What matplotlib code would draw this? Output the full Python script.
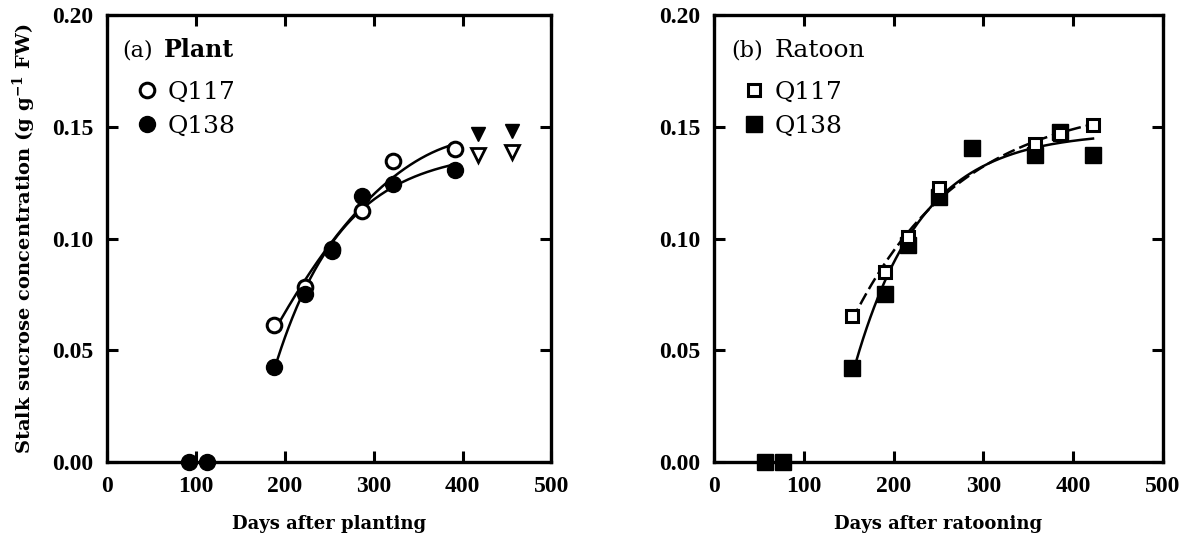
import numpy as np
import matplotlib
matplotlib.use("Agg")
import matplotlib.pyplot as plt
from matplotlib.lines import Line2D

# ---- data ----
# (a) plant crop
plant_q117_days = [188, 223, 253, 287, 322, 391]
plant_q117_suc = [0.0615, 0.0785, 0.0955, 0.1125, 0.1345, 0.1400]
plant_q138_days = [188, 223, 253, 287, 322, 391]
plant_q138_suc = [0.0425, 0.0750, 0.0945, 0.1190, 0.1245, 0.1305]
plant_zero_days = [92, 112]
plant_zero_suc = [0.0, 0.0]
plant_tri_days = [417, 456]
plant_tri_q117 = [0.1375, 0.1385]
plant_tri_q138 = [0.1470, 0.1480]

# (b) ratoon crop
ratoon_q117_days = [154, 190, 216, 250, 357, 385, 422]
ratoon_q117_suc = [0.0655, 0.0850, 0.1005, 0.1225, 0.1425, 0.1470, 0.1510]
ratoon_q138_days = [154, 190, 216, 250, 287, 357, 385, 422]
ratoon_q138_suc = [0.0420, 0.0750, 0.0970, 0.1185, 0.1405, 0.1375, 0.1475, 0.1375]
ratoon_zero_days = [57, 77]
ratoon_zero_suc = [0.0, 0.0]

x_ticks = [0, 100, 200, 300, 400, 500]
y_ticks = [0.00, 0.05, 0.10, 0.15, 0.20]

plt.rcParams["font.family"] = ["DejaVu Serif"]
plt.rcParams["mathtext.fontset"] = "dejavuserif"
TICKFONT = ["Liberation Serif", "DejaVu Serif"]


def exp_fit(x, y, n=200):
    """Least squares fit of y = a - b*exp(-c*x), drawn over the data range."""
    x = np.asarray(x, float)
    y = np.asarray(y, float)
    best = None
    for c in np.linspace(0.001, 0.05, 500):
        A = np.column_stack([np.ones_like(x), -np.exp(-c * x)])
        coef, *_ = np.linalg.lstsq(A, y, rcond=None)
        err = np.sum((A @ coef - y) ** 2)
        if best is None or err < best[0]:
            best = (err, c, coef)
    _, c, (a, b) = best
    xs = np.linspace(x.min(), x.max(), n)
    return xs, a - b * np.exp(-c * xs)


def poly_fit(x, y, deg=2, n=200):
    coef = np.polyfit(x, y, deg)
    xs = np.linspace(min(x), max(x), n)
    return xs, np.polyval(coef, xs)


def style_axes(ax, xlabel):
    ax.set_xlim(0, 500)
    ax.set_ylim(0, 0.20)
    ax.set_xticks(x_ticks)
    ax.set_yticks(y_ticks)
    ax.set_yticklabels([f"{v:.2f}" for v in y_ticks])
    ax.tick_params(direction="in", length=8, width=2.2, top=True, right=True,
                   pad=10)
    for lab in ax.get_xticklabels() + ax.get_yticklabels():
        lab.set_fontfamily(TICKFONT)
        lab.set_fontweight("bold")
        lab.set_fontsize(17)
    for sp in ax.spines.values():
        sp.set_linewidth(2.4)
    ax.set_xlabel(xlabel, fontsize=13, fontweight="bold", labelpad=13)


fig = plt.figure(figsize=(11.82, 5.39), dpi=100)
ax1 = fig.add_axes([0.0905, 0.143, 0.376, 0.829])
ax2 = fig.add_axes([0.604, 0.143, 0.380, 0.829])

ms = 11.5
# ---- panel (a) ----
xs, ys = poly_fit(plant_q117_days, plant_q117_suc, 2)
ax1.plot(xs, ys, color="black", lw=1.8, zorder=2)
xs, ys = exp_fit(plant_q138_days, plant_q138_suc)
ax1.plot(xs, ys, color="black", lw=1.8, zorder=2)
ax1.plot(plant_q117_days, plant_q117_suc, "o", ms=ms - 1, mfc="white", mec="black",
         mew=2.2, zorder=3)
ax1.plot(plant_q138_days, plant_q138_suc, "o", ms=ms, mfc="black", mec="black",
         zorder=4)
ax1.plot(plant_zero_days, plant_zero_suc, "o", ms=ms, mfc="black", mec="black",
         zorder=4, clip_on=False)
ax1.plot(plant_tri_days, plant_tri_q117, "v", ms=10, mfc="white", mec="black",
         mew=2, zorder=3)
ax1.plot(plant_tri_days, plant_tri_q138, "v", ms=10, mfc="black", mec="black",
         zorder=3)
style_axes(ax1, "Days after planting")
ax1.set_ylabel("Stalk sucrose concentration (g g$^{\\mathbf{-1}}$ FW)",
               fontsize=14, fontweight="bold", labelpad=10)
ax1.text(17, 0.1843, "(a)", fontsize=16, va="center")
ax1.text(64, 0.1843, "Plant", fontsize=17, va="center", fontweight="bold")
h1 = [Line2D([], [], ls="", marker="o", ms=ms - 1, mfc="white", mec="black", mew=2.2),
      Line2D([], [], ls="", marker="o", ms=ms, mfc="black", mec="black")]
ax1.legend(h1, ["Q117", "Q138"], loc="upper left", bbox_to_anchor=(0.04, 0.875),
           frameon=False, fontsize=18, handletextpad=0.3, labelspacing=0.42,
           borderaxespad=0, handlelength=1.0)

# ---- panel (b) ----
xs, ys = exp_fit(ratoon_q117_days, ratoon_q117_suc)
ax2.plot(xs, ys, color="black", lw=1.8, ls=(0, (5, 2)), zorder=2)
xs, ys = exp_fit(ratoon_q138_days, ratoon_q138_suc)
ax2.plot(xs, ys, color="black", lw=1.8, zorder=2)
ax2.plot(ratoon_q138_days, ratoon_q138_suc, "s", ms=ms, mfc="black", mec="black",
         zorder=3)
ax2.plot(ratoon_q117_days, ratoon_q117_suc, "s", ms=9, mfc="white", mec="black",
         mew=2.2, zorder=4)
ax2.plot(ratoon_zero_days, ratoon_zero_suc, "s", ms=ms, mfc="black", mec="black",
         zorder=4, clip_on=False)
style_axes(ax2, "Days after ratooning")
ax2.text(19, 0.1843, "(b)", fontsize=16, va="center")
ax2.text(68, 0.1843, "Ratoon", fontsize=18, va="center")
h2 = [Line2D([], [], ls="", marker="s", ms=9, mfc="white", mec="black", mew=2.2),
      Line2D([], [], ls="", marker="s", ms=ms, mfc="black", mec="black")]
ax2.legend(h2, ["Q117", "Q138"], loc="upper left", bbox_to_anchor=(0.04, 0.875),
           frameon=False, fontsize=18, handletextpad=0.3, labelspacing=0.42,
           borderaxespad=0, handlelength=1.0)

fig.savefig("out.png", dpi=100)
